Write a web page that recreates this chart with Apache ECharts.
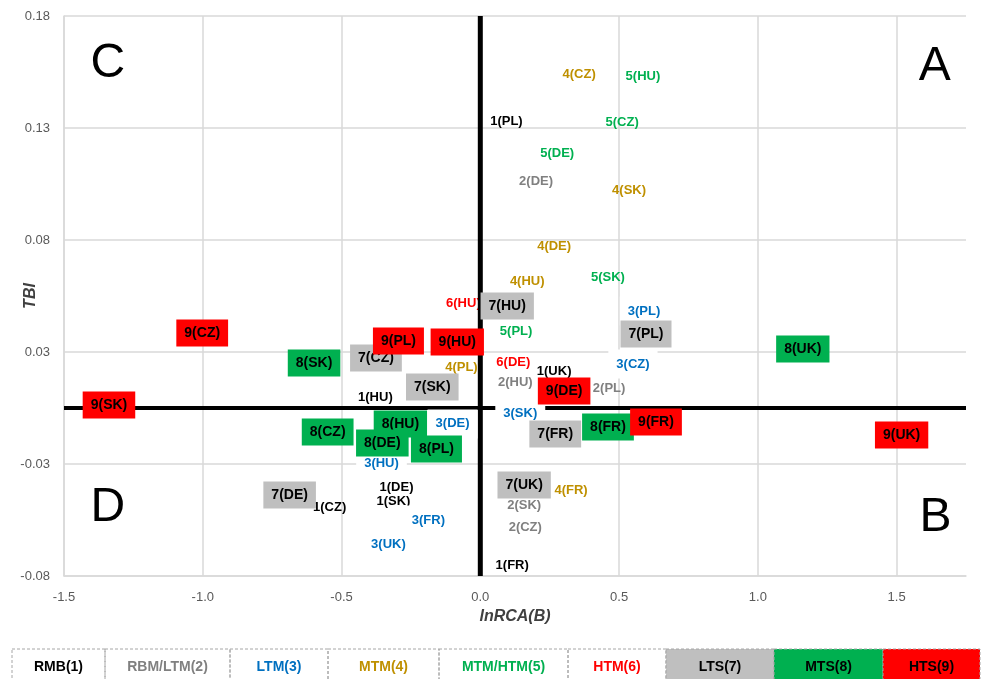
<!DOCTYPE html>
<html>
<head>
<meta charset="utf-8">
<title>TBI / lnRCA(B)</title>
<script src="https://cdn.jsdelivr.net/npm/echarts@6/dist/echarts.min.js"></script>
<style>
html, body { margin: 0; padding: 0; background: #fff; }
#chart { width: 981px; height: 679px; }
</style>
</head>
<body>
<div id="chart"></div>
<script>
// data: [country, lnRCA(B), TBI]
var rmb1 = [['PL', 0.094, 0.128], ['UK', 0.266, 0.0165], ['HU', -0.378, 0.0049], ['DE', -0.302, -0.0353],
            ['SK', -0.313, -0.0415], ['CZ', -0.543, -0.0446], ['FR', 0.115, -0.0701]];
var rbmLtm2 = [['DE', 0.201, 0.1013], ['HU', 0.126, 0.0112], ['PL', 0.464, 0.0089], ['SK', 0.158, -0.0433],
               ['CZ', 0.162, -0.0531]];
var ltm3 = [['PL', 0.59, 0.0433], ['CZ', 0.55, 0.0196], ['SK', 0.144, -0.0022], ['DE', -0.1, -0.0071],
            ['HU', -0.356, -0.0246], ['FR', -0.187, -0.05], ['UK', -0.331, -0.0607]];
var mtm4 = [['CZ', 0.356, 0.1487], ['SK', 0.536, 0.0973], ['DE', 0.266, 0.0723], ['HU', 0.169, 0.0563],
            ['PL', -0.068, 0.0183], ['FR', 0.327, -0.037]];
var mtmHtm5 = [['HU', 0.586, 0.148], ['CZ', 0.511, 0.1277], ['DE', 0.277, 0.1138], ['SK', 0.46, 0.0585],
               ['PL', 0.129, 0.0344]];
var htm6 = [['HU', -0.061, 0.0469], ['DE', 0.119, 0.0205]];
var lts7 = [['HU', 0.097, 0.0455], ['PL', 0.597, 0.033], ['CZ', -0.376, 0.0223], ['SK', -0.173, 0.0094],
            ['FR', 0.27, -0.0116], ['UK', 0.158, -0.0344], ['DE', -0.687, -0.0388]];
var mts8 = [['UK', 1.162, 0.0263], ['SK', -0.599, 0.0201], ['HU', -0.288, -0.0071], ['CZ', -0.55, -0.0107],
            ['DE', -0.353, -0.0156], ['PL', -0.158, -0.0183], ['FR', 0.46, -0.0085]];
var hts9 = [['CZ', -1.002, 0.0335], ['SK', -1.338, 0.0013], ['PL', -0.295, 0.0299], ['HU', -0.083, 0.0295],
            ['DE', 0.302, 0.0076], ['FR', 0.633, -0.0063], ['UK', 1.518, -0.0121]];

var groupNames = ['RMB(1)', 'RBM/LTM(2)', 'LTM(3)', 'MTM(4)', 'MTM/HTM(5)', 'HTM(6)', 'LTS(7)', 'MTS(8)', 'HTS(9)'];
var groupData = [rmb1, rbmLtm2, ltm3, mtm4, mtmHtm5, htm6, lts7, mts8, hts9];

// quadrant letters [letter, x, y]
var quadrants = [['C', -1.342, 0.1536], ['A', 1.637, 0.1522], ['D', -1.342, -0.0446], ['B', 1.64, -0.0491]];

// axes
var xMin = -1.5, xMax = 1.75, xStep = 0.5;
var yMin = -0.075, yMax = 0.175, yStep = 0.05;
var yTickLabels = ['-0.08', '-0.03', '0.03', '0.08', '0.13', '0.18'];

// styles
var textColors = ['#000000', '#808080', '#0070c0', '#bf9000', '#00b050', '#ff0000', '#000000', '#000000', '#000000'];
var fillColors = [null, null, '#ffffff', null, null, null, '#bfbfbf', '#00b050', '#ff0000'];
var legendEdges = [12, 105, 230, 328, 439, 568, 666, 774, 883, 980];
var FONT = '"Liberation Sans", Arial, sans-serif';

var chart = echarts.init(document.getElementById('chart'));

var series = [];

// quadrant letters
series.push({
    type: 'scatter',
    z: 0,
    silent: true,
    symbolSize: 1,
    itemStyle: { color: 'rgba(0,0,0,0)', opacity: 1 },
    data: quadrants.map(function (q) { return { name: q[0], value: [q[1], q[2]] }; }),
    label: {
        show: true, position: 'inside', formatter: '{b}',
        color: '#000', fontSize: 48, fontFamily: FONT
    }
});

// thick zero lines
series.push({
    type: 'line', z: 2, silent: true, symbol: 'none',
    lineStyle: { color: '#000', width: 5 },
    data: [[0, yMin], [0, yMax]]
});
series.push({
    type: 'line', z: 2, silent: true, symbol: 'none',
    lineStyle: { color: '#000', width: 4 },
    data: [[xMin, 0], [xMax, 0]]
});

groupData.forEach(function (rows, i) {
    var fill = fillColors[i];
    var boxed = fill && fill !== '#ffffff';
    var label = {
        show: true,
        position: 'inside',
        formatter: '{b}',
        color: textColors[i],
        fontSize: boxed ? 14 : 13,
        fontWeight: 'bold',
        fontFamily: FONT,
        lineHeight: 15
    };
    if (fill) {
        label.backgroundColor = fill;
        label.padding = boxed ? [6, 8] : [7, 8];
    }
    series.push({
        name: groupNames[i],
        type: 'scatter',
        z: boxed ? 4 : (fill ? 3 : 1),
        silent: true,
        symbolSize: 1,
        itemStyle: { color: 'rgba(0,0,0,0)', opacity: 1 },
        data: rows.map(function (r) {
            return { name: (i + 1) + '(' + r[0] + ')', value: [r[1], r[2]] };
        }),
        label: label,
        labelLayout: { hideOverlap: false }
    });
});

// legend strip at the bottom
var graphic = [];
groupNames.forEach(function (nm, i) {
    var x0 = legendEdges[i], x1 = legendEdges[i + 1];
    var boxed = fillColors[i] && fillColors[i] !== '#ffffff';
    graphic.push({
        type: 'rect',
        shape: { x: x0, y: 649, width: x1 - x0, height: 34 },
        style: {
            fill: boxed ? fillColors[i] : 'none',
            stroke: '#a6a6a6', lineWidth: 1, lineDash: [3, 2]
        },
        z: 10
    });
    graphic.push({
        type: 'text',
        x: (x0 + x1) / 2, y: 667,
        style: {
            text: nm,
            fill: textColors[i],
            font: 'bold 14px ' + FONT,
            align: 'center', verticalAlign: 'middle'
        },
        z: 11
    });
});

var option = {
    animation: false,
    backgroundColor: '#fff',
    grid: { left: 64, right: 15, top: 16, bottom: 103, outerBoundsMode: 'none', containLabel: false },
    xAxis: {
        type: 'value',
        min: xMin, max: xMax, interval: xStep,
        name: 'lnRCA(B)',
        nameLocation: 'middle',
        nameGap: 33,
        nameMoveOverlap: false,
        nameTextStyle: { fontSize: 16, fontWeight: 'bold', fontStyle: 'italic', color: '#404040', fontFamily: FONT },
        axisLine: { onZero: false, lineStyle: { color: '#d9d9d9', width: 1.5 } },
        axisTick: { show: false },
        axisLabel: {
            color: '#595959', fontSize: 13, fontFamily: FONT, margin: 15,
            showMaxLabel: false,
            formatter: function (v) { return v.toFixed(1); }
        },
        splitLine: { show: true, showMaxLine: false, lineStyle: { color: '#d9d9d9', width: 1.5 } }
    },
    yAxis: {
        type: 'value',
        min: yMin, max: yMax, interval: yStep,
        name: 'TBI',
        nameLocation: 'middle',
        nameGap: 25,
        nameRotate: 90,
        nameMoveOverlap: false,
        nameTextStyle: { fontSize: 16, fontWeight: 'bold', fontStyle: 'italic', color: '#404040', fontFamily: FONT },
        axisLine: { show: true, onZero: false, lineStyle: { color: '#d9d9d9', width: 1.5 } },
        axisTick: { show: false },
        axisLabel: {
            color: '#595959', fontSize: 13, fontFamily: FONT, margin: 14,
            formatter: function (v) {
                return yTickLabels[Math.round((v - yMin) / yStep)];
            }
        },
        splitLine: { show: true, lineStyle: { color: '#d9d9d9', width: 1.5 } }
    },
    graphic: graphic,
    series: series
};

chart.setOption(option);
</script>
</body>
</html>
